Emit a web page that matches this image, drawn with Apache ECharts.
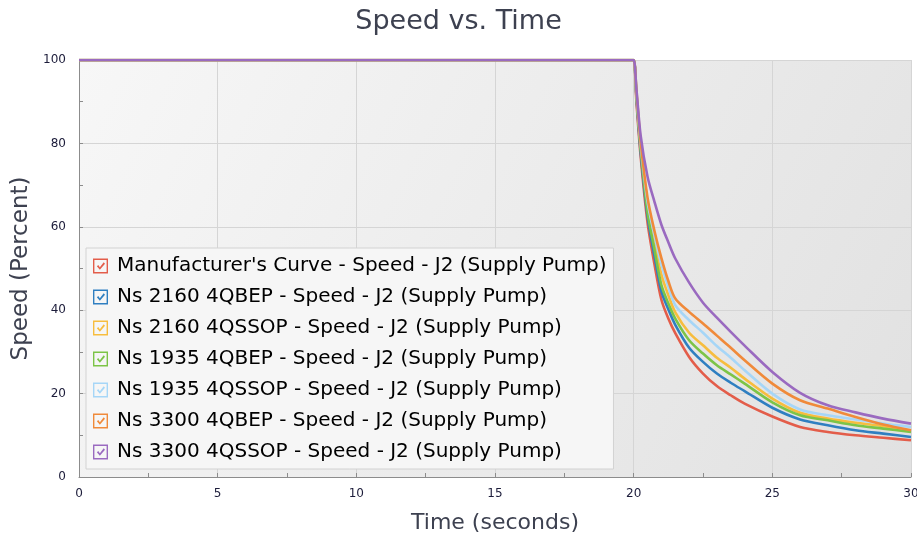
<!DOCTYPE html>
<html>
<head>
<meta charset="utf-8">
<script src="https://cdn.jsdelivr.net/npm/echarts@6/dist/echarts.min.js"></script>
<style>
html,body{margin:0;padding:0;background:#fff;}
#chart{width:917px;height:541px;}
</style>
</head>
<body>
<div id="chart"></div>
<script>
// Time points (seconds)
const times = [0, 19.9, 20, 20.1, 20.25, 20.5, 20.75, 21, 21.25, 21.5, 22, 22.5, 23, 23.5, 24, 25, 26, 27, 28, 29, 30];

// Speed (percent) per series
const manufacturer = [100, 100, 100, 90, 77, 61, 51, 42.5, 38, 34.5, 28.8, 24.8, 21.8, 19.6, 17.6, 14.5, 12.0, 10.8, 10.0, 9.4, 8.8];
const ns2160BEP   = [100, 100, 100, 91, 78, 62.5, 53, 44.5, 40.2, 36.5, 31.0, 27.6, 24.8, 22.6, 20.6, 16.6, 13.8, 12.4, 11.2, 10.4, 9.6];
const ns2160SSOP  = [100, 100, 100, 92, 79.5, 65, 56, 48.5, 43.6, 39.5, 34.6, 31.6, 28.6, 26.2, 23.6, 18.8, 15.4, 14.0, 13.0, 12.2, 11.0];
const ns1935BEP   = [100, 100, 100, 91.5, 79, 63.5, 54.5, 46, 41.6, 38, 32.8, 29.6, 26.8, 24.6, 22.4, 17.9, 14.8, 13.6, 12.4, 11.6, 10.8];
const ns1935SSOP  = [100, 100, 100, 92, 80, 66, 58, 51, 45.6, 41.2, 37.6, 34.6, 31.4, 28.6, 25.6, 20.0, 16.2, 14.8, 13.8, 12.8, 12.0];
const ns3300BEP   = [100, 100, 100, 92.5, 80.5, 67, 59, 52.5, 47, 42.8, 39.6, 36.8, 33.9, 31.0, 28.0, 22.4, 18.4, 16.4, 14.4, 12.6, 11.2];
const ns3300SSOP  = [100, 100, 100, 93, 82, 72, 66, 60.5, 56.3, 52.4, 46.6, 41.8, 38.2, 34.8, 31.5, 25.2, 20.2, 17.2, 15.5, 14.0, 12.8];

const seriesNames = [
  "Manufacturer's Curve - Speed - J2 (Supply Pump)",
  "Ns 2160 4QBEP - Speed - J2 (Supply Pump)",
  "Ns 2160 4QSSOP - Speed - J2 (Supply Pump)",
  "Ns 1935 4QBEP - Speed - J2 (Supply Pump)",
  "Ns 1935 4QSSOP - Speed - J2 (Supply Pump)",
  "Ns 3300 4QBEP - Speed - J2 (Supply Pump)",
  "Ns 3300 4QSSOP - Speed - J2 (Supply Pump)"
];
const seriesValues = [manufacturer, ns2160BEP, ns2160SSOP, ns1935BEP, ns1935SSOP, ns3300BEP, ns3300SSOP];
const seriesColors = ['#e35d4a', '#2f7fc1', '#f7bd3e', '#7cc447', '#a6d6f7', '#f08a3a', '#9a6ac0'];

const xTicks = [0, 5, 10, 15, 20, 25, 30];
const yTicks = [0, 20, 40, 60, 80, 100];

const FONT = '"DejaVu Sans", sans-serif';
const checkIcon = 'path://M0,0 L14,0 L14,14 L0,14 Z M1.3,1.3 L1.3,12.7 L12.7,12.7 L12.7,1.3 Z M3.6,7.2 L4.9,6.0 L6.4,8.1 L10.0,3.6 L11.2,4.8 L6.4,10.6 Z';

const chart = echarts.init(document.getElementById('chart'), null, {renderer: 'canvas'});

const series = seriesNames.map((name, i) => ({
  name: name,
  type: 'line',
  data: times.map((t, k) => [t, seriesValues[i][k]]),
  showSymbol: false,
  symbol: 'none',
  smooth: 0.3,
  lineStyle: {width: 2.6, color: seriesColors[i]},
  itemStyle: {color: seriesColors[i]},
  animation: false
}));

chart.setOption({
  animation: false,
  title: {
    text: 'Speed vs. Time',
    left: 'center',
    top: 3,
    textStyle: {fontFamily: FONT, fontSize: 27, fontWeight: 'normal', color: '#3d4150'}
  },
  grid: {
    left: 79, right: 6, top: 60, bottom: 64,
    outerBoundsMode: 'none',
    containLabel: false,
    show: true,
    borderWidth: 0,
    backgroundColor: new echarts.graphic.LinearGradient(0, 0, 1, 1, [
      {offset: 0, color: '#f7f7f7'},
      {offset: 1, color: '#e1e1e1'}
    ])
  },
  legend: {
    orient: 'vertical',
    left: 86,
    top: 248,
    backgroundColor: '#f6f6f6',
    borderColor: '#d2d2d2',
    borderWidth: 1,
    borderRadius: 0,
    padding: [8, 7, 7, 7],
    itemGap: 11,
    itemWidth: 15,
    itemHeight: 15,
    icon: checkIcon,
    data: seriesNames,
    textStyle: {fontFamily: FONT, fontSize: 20, color: '#000000', padding: [0, 0, 0, 4]}
  },
  xAxis: {
    type: 'value',
    min: 0, max: 30, interval: 5,
    name: 'Time (seconds)',
    nameLocation: 'middle',
    nameGap: 35,
    nameTextStyle: {fontFamily: FONT, fontSize: 22, color: '#3d4150'},
    axisLine: {show: true, lineStyle: {color: '#8c8c8c', width: 1}},
    axisTick: {show: true, inside: true, length: 4, lineStyle: {color: '#8c8c8c'}},
    minorTick: {show: true, splitNumber: 2, length: 4, lineStyle: {color: '#8c8c8c'}},
    axisLabel: {fontFamily: FONT, fontSize: 12, color: '#1c1c3a', margin: 11,
      formatter: v => xTicks.includes(v) ? String(v) : ''},
    splitLine: {show: true, lineStyle: {color: '#d5d5d5', width: 1}}
  },
  yAxis: {
    type: 'value',
    min: 0, max: 100, interval: 20,
    name: 'Speed (Percent)',
    nameLocation: 'middle',
    nameGap: 42,
    nameTextStyle: {fontFamily: FONT, fontSize: 23, color: '#3d4150'},
    axisLine: {show: true, lineStyle: {color: '#8c8c8c', width: 1}},
    axisTick: {show: true, inside: true, length: 4, lineStyle: {color: '#8c8c8c'}},
    minorTick: {show: true, splitNumber: 2, length: 4, lineStyle: {color: '#8c8c8c'}},
    axisLabel: {fontFamily: FONT, fontSize: 12, color: '#1c1c3a', margin: 13,
      formatter: v => yTicks.includes(v) ? String(v) : ''},
    splitLine: {show: true, lineStyle: {color: '#d5d5d5', width: 1}}
  },
  series: series
});
</script>
</body>
</html>
